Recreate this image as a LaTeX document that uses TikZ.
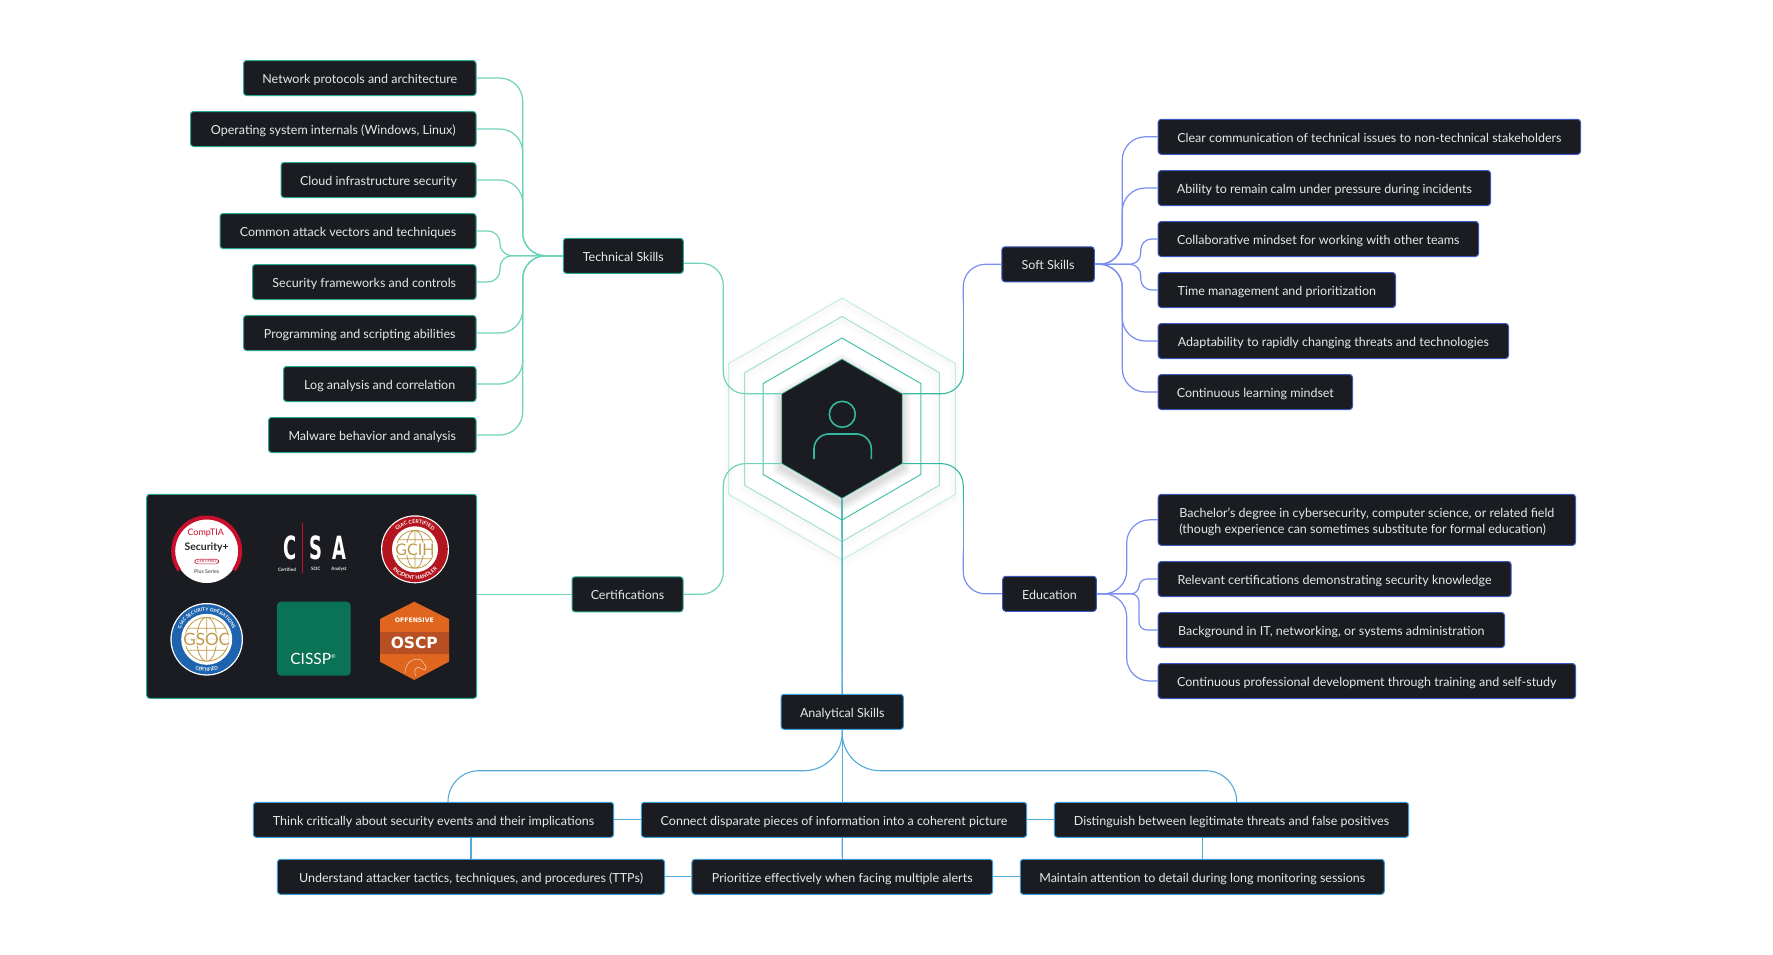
\documentclass[tikz,border=0pt]{standalone}
\usepackage{fontspec}
\setmainfont{Lato}
\newfontfamily\heavyfont{DejaVu Sans}
\usetikzlibrary{calc,shapes.geometric,decorations.text}

\definecolor{nodefill}{HTML}{1A1C21}
\definecolor{nodetext}{HTML}{E6E8E8}
\definecolor{techc}{HTML}{2BA88F}
\definecolor{techline}{HTML}{6FD3BA}
\definecolor{softc}{HTML}{3F57C0}
\definecolor{softline}{HTML}{7A8DF0}
\definecolor{anac}{HTML}{3A9BD5}
\definecolor{analine}{HTML}{52AAD9}
\definecolor{hubteal}{HTML}{35B89F}
\definecolor{goldc}{HTML}{BF9A4B}
\definecolor{compred}{HTML}{C8102E}
\definecolor{gcihred}{HTML}{B3151F}
\definecolor{gsocblue}{HTML}{1D63AE}
\definecolor{cisspgreen}{HTML}{0B7355}
\definecolor{oscporange}{HTML}{E0661F}
\definecolor{oscpband}{HTML}{B84F22}

\newcommand{\blendline}[3]{%
  \draw[line width=1.1, draw=hubteal!50!#3] (#1) -- (#2);
  \foreach \k [evaluate=\k as \p using 95-\k*10, evaluate=\k as \q using \k+1] in {0,...,9}
    \draw[line width=1.1, draw=hubteal!\p!#3] ($(#1)!\k/10!(#2)$) -- ($(#1)!\q/10!(#2)$);
}

\tikzset{
  globe/.pic={
    \draw[goldc, line width=.8] (0,0) circle[radius=#1] (0,0) ellipse[x radius=.45*#1, y radius=#1]
      (0,-#1) -- (0,#1) (-#1,0) -- (#1,0) (-.86*#1,.5*#1) -- (.86*#1,.5*#1) (-.86*#1,-.5*#1) -- (.86*#1,-.5*#1);
  }
}

\begin{document}
\begin{tikzpicture}[
  x=1pt, y=-1pt,
  font=\fontsize{12.5}{16}\selectfont,
  box/.style={draw=#1, line width=1, fill=nodefill, rounded corners=3, text=nodetext, minimum height=35, inner xsep=0, inner ysep=0, text height=11, text depth=0},
  techitem/.style={box=techc, anchor=east},
  softitem/.style={box=softc, anchor=west},
  anaitem/.style={box=anac},
  hexa/.style={regular polygon, regular polygon sides=6, regular polygon rotate=30, inner sep=0, minimum size=#1},
  ringline/.style={hexa=#1, line width=1},
  techwire/.style={draw=techline, line width=1.2},
  softwire/.style={draw=softline, line width=1.2},
  anawire/.style={draw=analine, line width=1.1},
  smalltext/.style={inner sep=0, text=#1}
]
\useasboundingbox (0,0) rectangle (1773,954);

% rings round the hub
\foreach \w in {2,4,...,12} {
  \node[ringline=261.7, draw=black, draw opacity=.005, line width=\w] (shadowc\w) at (842,432) {};
  \node[ringline=225, draw=black, draw opacity=.004, line width=\w] (shadowb\w) at (842,432) {};
}
\node[ringline=261.7, draw=hubteal!28] (ringc) at (842,429) {};
\node[ringline=225, draw=hubteal!45] (ringb) at (842,429) {};
\node[ringline=182, draw=hubteal!90] (ringa) at (842,429) {};
\foreach \w in {2,4,...,18}
  \node[hexa=139, draw=black, draw opacity=.016, line width=\w] (hubshadow\w) at (842,433) {};
\node[hexa=139, draw=techc, fill=nodefill, line width=.6] (hub) at (842,428.7) {};

% technical skills
\node[techitem, minimum width=232.5] (net) at (476.5,78) {Network protocols and architecture};
\node[techitem, minimum width=285.5] (osint) at (476.5,129) {Operating system internals (Windows, Linux)};
\node[techitem, minimum width=195] (cloud) at (476.5,180) {Cloud infrastructure security};
\node[techitem, minimum width=256] (attack) at (476.5,231) {Common attack vectors and techniques};
\node[techitem, minimum width=223.5] (frames) at (476.5,282) {Security frameworks and controls};
\node[techitem, minimum width=232.5] (progs) at (476.5,333) {Programming and scripting abilities};
\node[techitem, minimum width=192.5] (logs) at (476.5,384) {Log analysis and correlation};
\node[techitem, minimum width=207.5] (malware) at (476.5,435) {Malware behavior and analysis};
\node[box=techc, minimum width=120] (tech) at (623.3,255.8) {Technical Skills};

% certifications
\node[box=techc, minimum width=330, minimum height=204] (certpanel) at (311.7,596.3) {};
\node[box=techc, minimum width=111] (cert) at (627.5,594.3) {Certifications};

% soft skills
\node[softitem, minimum width=422.3] (clear) at (1157.7,136.8) {Clear communication of technical issues to non-technical stakeholders};
\node[softitem, minimum width=332.3] (calm) at (1157.7,188) {Ability to remain calm under pressure during incidents};
\node[softitem, minimum width=320.3] (team) at (1157.7,239) {Collaborative mindset for working with other teams};
\node[softitem, minimum width=237.3] (timeman) at (1157.7,290) {Time management and prioritization};
\node[softitem, minimum width=350.3] (adapt) at (1157.7,341) {Adaptability to rapidly changing threats and technologies};
\node[softitem, minimum width=194.3] (learn) at (1157.7,392) {Continuous learning mindset};
\node[box=softc, minimum width=92.3] (soft) at (1048.1,264.3) {Soft Skills};

% education
\node[softitem, minimum width=417.3, minimum height=51, align=left, text height=26.5] (degree) at (1157.7,519.8) {Bachelor's degree in cybersecurity, computer science, or related field\\(though experience can sometimes substitute for formal education)};
\node[softitem, minimum width=352.9] (relcert) at (1157.7,579) {Relevant certifications demonstrating security knowledge};
\node[softitem, minimum width=346.3] (itbg) at (1157.7,630) {Background in IT, networking, or systems administration};
\node[softitem, minimum width=417.3] (cpd) at (1157.7,681) {Continuous professional development through training and self-study};
\node[box=softc, minimum width=93.6] (edu) at (1049.5,593.8) {Education};

% analytical skills
\node[anaitem, minimum width=122.4] (ana) at (842.2,711.8) {Analytical Skills};
\node[anaitem, minimum width=360.3] (think) at (433.5,819.8) {Think critically about security events and their implications};
\node[anaitem, minimum width=385.4] (joinup) at (834,819.8) {Connect disparate pieces of information into a coherent picture};
\node[anaitem, minimum width=354.4] (distinct) at (1231.5,819.8) {Distinguish between legitimate threats and false positives};
\node[anaitem, minimum width=387.1] (ttps) at (471,876.8) {Understand attacker tactics, techniques, and procedures (TTPs)};
\node[anaitem, minimum width=300.7] (prior) at (842.3,876.8) {Prioritize effectively when facing multiple alerts};
\node[anaitem, minimum width=364] (maintain) at (1202.3,876.8) {Maintain attention to detail during long monitoring sessions};

\coordinate (techtrunk) at (522.7,255.7);
\coordinate (techinner) at (500,255.7);
\coordinate (softtrunk) at (1122.3,264.3);
\coordinate (softinner) at (1140.7,264.3);
\coordinate (edutrunk) at (1126.7,593.8);
\coordinate (eduinner) at (1139,593.8);
\coordinate (leftbus) at (723.3,428.7);
\coordinate (rightbus) at (963.3,428.7);
\coordinate (softlow) at (963.3,360);
\coordinate (softhigh) at (963.3,300);
\coordinate (edulow) at (963.3,495);
\coordinate (eduhigh) at (963.3,555);
\coordinate (anabus) at (842,770.7);

% connectors, left side
\foreach \n in {net,osint,cloud,progs,logs,malware}
  \draw[techwire, rounded corners=23] (\n.east) -| (techtrunk) -- (tech.west);
\foreach \n in {attack,frames}
  \draw[techwire, rounded corners=12] (\n.east) -| (techinner) -- (tech.west);
\draw[techwire, rounded corners=22] (hub.150) -- (hub.150 -| leftbus) |- ([yshift=-7.5pt]tech.east);
\draw[techwire, rounded corners=22] (hub.210) -- (hub.210 -| leftbus) |- (cert.east);
\draw[techwire] (cert.west -| certpanel.east) -- (cert.west);

% connectors, right side
\foreach \n in {clear,calm,adapt,learn}
  \draw[softwire, rounded corners=23] (soft.east) -- (softtrunk) |- (\n.west);
\foreach \n in {team,timeman}
  \draw[softwire, rounded corners=11] (soft.east) -- (softinner) |- (\n.west);
\foreach \n in {degree,cpd}
  \draw[softwire, rounded corners=23] (edu.east) -- (edutrunk) |- (\n.west);
\foreach \n in {relcert,itbg}
  \draw[softwire, rounded corners=8] (edu.east) -- (eduinner) |- (\n.west);
\draw[draw=hubteal, line width=1.1, rounded corners=22] (hub.30) -- (hub.30 -| rightbus) -- (softlow);
\blendline{softlow}{softhigh}{softline}
\draw[softwire, rounded corners=22] (softhigh) |- (soft.west);
\draw[draw=hubteal, line width=1.1, rounded corners=22] (hub.330) -- (hub.330 -| rightbus) -- (edulow);
\blendline{edulow}{eduhigh}{softline}
\draw[softwire, rounded corners=22] (eduhigh) |- (edu.west);

% connectors, bottom
\blendline{hub.south}{ana.north}{analine}
\draw[anawire] (ana.south) -- (ana.south |- joinup.north);
\draw[anawire] (ana.south |- joinup.south) -- (prior.north);
\draw[anawire] (ana.south) [rounded corners=38] -- (anabus) [rounded corners=31] -| ([xshift=14.5pt]think.north);
\draw[anawire] (ana.south) [rounded corners=38] -- (anabus) [rounded corners=31] -| ([xshift=5.2pt]distinct.north);
\draw[anawire] (think.east) -- (joinup.west);
\draw[anawire] (joinup.east) -- (distinct.west);
\draw[anawire] (ttps.east) -- (prior.west);
\draw[anawire] (prior.east) -- (maintain.west);
\draw[anawire] (ttps.north |- think.south) -- (ttps.north);
\draw[anawire] (maintain.north |- distinct.south) -- (maintain.north);

% person in the hub
\node[circle, draw=hubteal, line width=1.6, minimum size=26, inner sep=0] (head) at (842.3,414.3) {};
\coordinate (shoulderl) at (814,459);
\coordinate (shoulderr) at (871.3,459);
\coordinate (shouldertop) at (842.3,434);
\draw[draw=hubteal, line width=1.6, rounded corners=15] (shoulderl) |- (shouldertop) -| (shoulderr);

% Security+ badge
\begin{scope}[shift={(206.7,551)}, y=1pt]
  \fill[white] (0,0) circle[radius=32];
  \draw[compred, line width=4] (215:33.5) arc[start angle=215, end angle=-35, radius=33.5];
  \node[smalltext=compred, font=\fontsize{9}{9}\selectfont] (comptia) at (-1,18) {CompTIA};
  \node[smalltext=black!85, font=\fontsize{10.4}{10}\selectfont\bfseries] (secplus) at (0,3) {Security+};
  \node[draw=compred, rounded corners=2.5, line width=.5, inner xsep=2, inner ysep=.8, text=compred, font=\fontsize{4}{4}\selectfont] (seccert) at (0,-10.5) {CERTIFIED};
  \node[smalltext=black!60, font=\fontsize{5.2}{5}\selectfont\bfseries] (plusseries) at (0,-20.5) {Plus Series};
\end{scope}

% CSA mark
\node[smalltext=white, font=\fontsize{32}{32}\heavyfont\bfseries, xscale=.56] (csac) at (290,547.7) {C};
\node[smalltext=white, font=\fontsize{32}{32}\heavyfont\bfseries, xscale=.56] (csas) at (315.7,547.7) {S};
\node[smalltext=white, font=\fontsize{32}{32}\heavyfont\bfseries, xscale=.56] (csaa) at (339,547.7) {A};
\fill[compred] (301.5,523) rectangle (303.2,572.7);
\node[smalltext=nodetext, font=\fontsize{4.6}{5}\selectfont\bfseries] (csatxa) at (287,569.3) {Certified};
\node[smalltext=nodetext, font=\fontsize{4.6}{5}\selectfont\bfseries] (csatxb) at (315.7,569.3) {SOC};
\node[smalltext=nodetext, font=\fontsize{4.6}{5}\selectfont\bfseries] (csatxc) at (339,569.3) {Analyst};

% GCIH badge
\begin{scope}[shift={(415,549.3)}, y=1pt]
  \fill[white] (0,0) circle[radius=34];
  \fill[gcihred] (0,0) circle[radius=32.8];
  \fill[white] (0,0) circle[radius=23];
  \pic {globe=19};
  \node[fill=white, inner xsep=.5, inner ysep=0, text=goldc, font=\fontsize{16}{16}\selectfont] (gcih) at (0,0) {GCIH};
  \path[decorate, decoration={text along path, text align=center, text={|\fontsize{5.2}{5}\selectfont\bfseries\color{white}|GIAC CERTIFIED}}]
    (150:25.8) arc[start angle=150, end angle=30, radius=25.8];
  \path[decorate, decoration={text along path, text align=center, text={|\fontsize{5.2}{5}\selectfont\bfseries\color{white}|INCIDENT HANDLER}}]
    (202:30) arc[start angle=202, end angle=338, radius=30];
\end{scope}

% GSOC badge
\begin{scope}[shift={(206.7,639.3)}, y=1pt]
  \fill[white] (0,0) circle[radius=36.3];
  \fill[gsocblue] (0,0) circle[radius=35];
  \fill[white] (0,0) circle[radius=25.5];
  \pic {globe=22};
  \node[fill=white, fill opacity=.75, text opacity=1, inner xsep=.5, inner ysep=0, text=goldc, font=\fontsize{17}{17}\selectfont] (gsoc) at (0,0) {GSOC};
  \path[decorate, decoration={text along path, text align=center, text={|\fontsize{4.8}{5}\selectfont\bfseries\color{white}|GIAC SECURITY OPERATIONS}}]
    (190:28) arc[start angle=190, end angle=-10, radius=28];
  \path[decorate, decoration={text along path, text align=center, text={|\fontsize{4.8}{5}\selectfont\bfseries\color{white}|CERTIFIED}}]
    (235:32) arc[start angle=235, end angle=305, radius=32];
\end{scope}

% CISSP badge
\node[fill=cisspgreen, rounded corners=4, minimum width=73.7, minimum height=74, inner sep=0] (cissp) at (313.8,638.7) {};
\node[smalltext=white, font=\fontsize{15.5}{16}\selectfont] (cissptxt) at (313,659) {CISSP\raisebox{6pt}{\fontsize{5.5}{6}\selectfont ®}};

% OSCP badge
\fill[oscporange] (414.3,601.7) -- (449,619) -- (449,661.7) -- (414.3,680) -- (380,661.7) -- (380,619) -- cycle;
\fill[oscpband] (380,632.3) rectangle (449,654);
\node[smalltext=white, font=\fontsize{6.2}{7}\heavyfont\bfseries] (offsec) at (414.3,620) {OFFENSIVE};
\node[smalltext=white, font=\fontsize{15.5}{16}\heavyfont\bfseries] (oscp) at (414.3,643.3) {OSCP};
\draw[oscporange!40!white, line width=.6] (405,673) .. controls (405,663) and (413,657) .. (421,660) .. controls (424,664) and (428,667) .. (425,670) -- (418,667) .. controls (414,669) and (414,673) .. (416,676);

\end{tikzpicture}
\end{document}
